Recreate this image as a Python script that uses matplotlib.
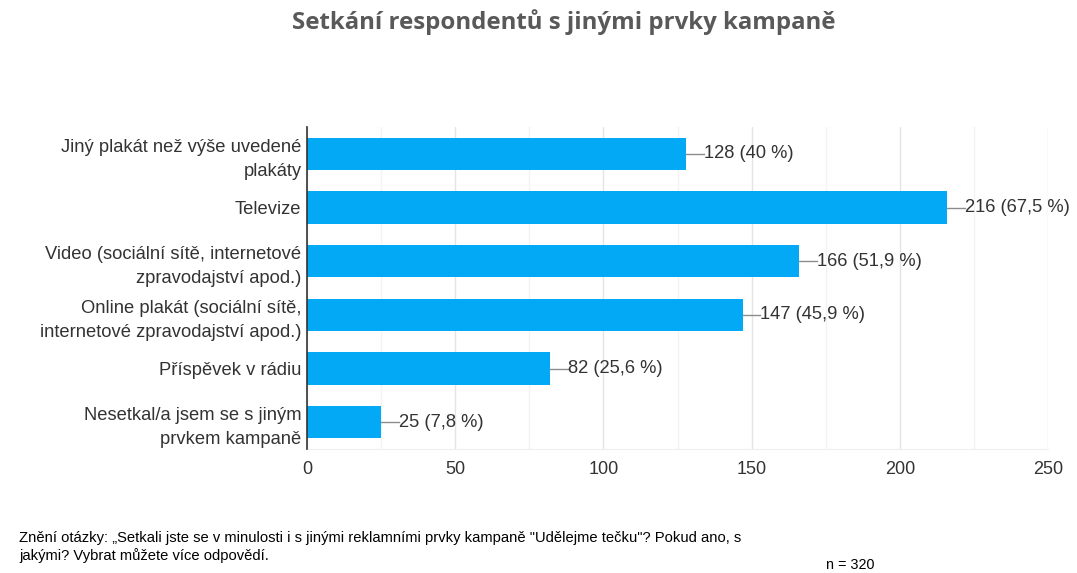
import matplotlib
matplotlib.use("Agg")
import matplotlib.pyplot as plt

# data
categories = [
    "Jiný plakát než výše uvedené\nplakáty",
    "Televize",
    "Video (sociální sítě, internetové\nzpravodajství apod.)",
    "Online plakát (sociální sítě,\ninternetové zpravodajství apod.)",
    "Příspěvek v rádiu",
    "Nesetkal/a jsem se s jiným\nprvkem kampaně",
]
counts = [128, 216, 166, 147, 82, 25]
percents = ["40 %", "67,5 %", "51,9 %", "45,9 %", "25,6 %", "7,8 %"]
xticks = [0, 50, 100, 150, 200, 250]
xminor = [25, 75, 125, 175, 225]

plt.rcParams["font.family"] = ["Liberation Sans", "DejaVu Sans"]

W, H = 1077, 573
fig = plt.figure(figsize=(W / 100, H / 100), dpi=100)
ax = fig.add_axes([307 / W, 1 - 449 / H, (1048 - 307) / W, (449 - 127) / H])

y = list(range(len(categories)))
ax.barh(y, counts, height=0.6, color="#03a9f4", zorder=3)
ax.set_ylim(len(categories) - 0.5, -0.5)
ax.set_xlim(0, 250)
ax.set_xticks(xticks)
ax.set_xticks(xminor, minor=True)
ax.set_yticks(y)
ax.set_yticklabels(categories, fontsize=13.2, color="#333333",
                   linespacing=1.55, multialignment="right")
ax.tick_params(axis="x", labelsize=13, labelcolor="#333333", length=0, pad=9)
ax.tick_params(axis="x", which="minor", length=0)
ax.tick_params(axis="y", length=0, pad=4)
ax.grid(axis="x", which="major", color="#e4e4e4", linewidth=1, zorder=0)
ax.grid(axis="x", which="minor", color="#f3f3f3", linewidth=1, zorder=0)
for s in ["top", "right"]:
    ax.spines[s].set_visible(False)
ax.spines["bottom"].set_color("#eeeeee")
ax.spines["left"].set_color("#333333")
ax.spines["left"].set_linewidth(1.2)
ax.spines["left"].set_zorder(4)

# value labels with leader line
lead = 6
for yi, c, p in zip(y, counts, percents):
    ax.plot([c, c + lead], [yi, yi], color="#8c8c8c", linewidth=1, zorder=3)
    ax.text(c + lead, yi, f"{c} ({p})", va="center", ha="left",
            fontsize=13.2, color="#333333", zorder=4)

fig.text(0.5 + 25 / W, 1 - 22 / H, "Setkání respondentů s jinými prvky kampaně",
         ha="center", va="center", fontsize=17.3, fontweight="bold",
         color="#595959", family=["Open Sans", "DejaVu Sans"])

fig.text(19 / W, 1 - 547 / H,
         "Znění otázky: „Setkali jste se v minulosti i s jinými reklamními prvky kampaně \"Udělejme tečku\"? Pokud ano, s\njakými? Vybrat můžete více odpovědí.",
         ha="left", va="center", fontsize=10.6, color="#000000", linespacing=1.25)
fig.text(826 / W, 1 - 565 / H, "n = 320", ha="left", va="center",
         fontsize=10.4, color="#000000")

fig.savefig("out.png", dpi=100, facecolor="white")
